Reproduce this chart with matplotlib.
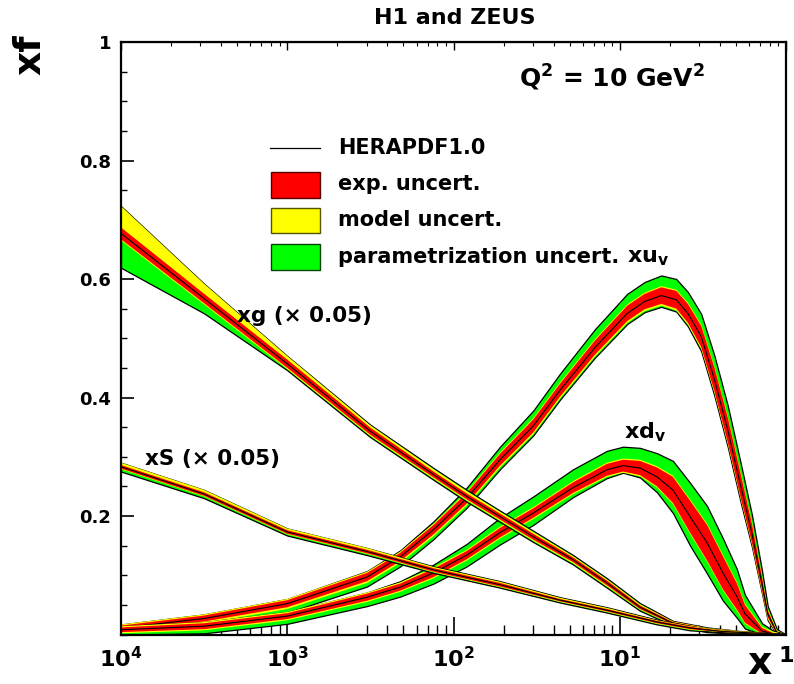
import numpy as np
import matplotlib
matplotlib.use('Agg')
import matplotlib.pyplot as plt
from matplotlib.patches import Rectangle
from matplotlib.lines import Line2D
from matplotlib.ticker import MultipleLocator, LogLocator, NullFormatter

plt.rcParams['font.family'] = ['DejaVu Sans']
plt.rcParams['mathtext.default'] = 'bf'

# ---------------- data (log10 x, central values, band half-widths) ----------------
# xu_v
logx_uv = [-4, -3.5, -3, -2.52, -2.32, -2.12, -1.92, -1.72, -1.52, -1.36, -1.15, -0.955,
           -0.85, -0.75, -0.66, -0.59, -0.51, -0.43, -0.35, -0.27, -0.205, -0.145, -0.11, -0.055, 0]
xuv = [0.011, 0.027, 0.052, 0.097, 0.131, 0.177, 0.230, 0.295, 0.352, 0.412, 0.484, 0.542,
       0.562, 0.572, 0.565, 0.542, 0.503, 0.430, 0.345, 0.248, 0.171, 0.087, 0.035, 0.003, 0.0]
uv_exp = [0.004, 0.005, 0.006, 0.007, 0.007, 0.008, 0.009, 0.010, 0.011, 0.011, 0.012, 0.013,
          0.013, 0.014, 0.015, 0.016, 0.018, 0.020, 0.021, 0.020, 0.016, 0.011, 0.006, 0.002, 0]
uv_mod_up = [0.002] * 24 + [0]
uv_mod_dn = [0.003] * 24 + [0]
uv_par_up = [0, 0, 0, 0.001, 0.002, 0.004, 0.007, 0.010, 0.013, 0.015, 0.017, 0.018,
             0.018, 0.018, 0.018, 0.018, 0.018, 0.018, 0.018, 0.016, 0.013, 0.009, 0.005, 0.002, 0]
uv_par_dn = [0.005, 0.006, 0.006, 0.006, 0.006, 0.005, 0.004, 0.003, 0.002, 0.002, 0.002, 0.002,
             0.002, 0.002, 0.002, 0.003, 0.004, 0.005, 0.005, 0.005, 0.004, 0.003, 0.002, 0.001, 0]

# xd_v
logx_dv = [-4, -3.5, -3, -2.52, -2.32, -2.12, -1.92, -1.72, -1.52, -1.28, -1.077, -0.98,
           -0.878, -0.776, -0.68, -0.577, -0.475, -0.379, -0.295, -0.247, -0.144, -0.08, 0]
xdv = [0.008, 0.014, 0.031, 0.063, 0.080, 0.104, 0.134, 0.172, 0.205, 0.248, 0.278, 0.285,
       0.281, 0.266, 0.244, 0.199, 0.155, 0.104, 0.064, 0.035, 0.006, 0.001, 0]
dv_exp = [0.004, 0.005, 0.005, 0.006, 0.006, 0.007, 0.007, 0.008, 0.008, 0.009, 0.010, 0.010,
          0.012, 0.016, 0.022, 0.027, 0.030, 0.028, 0.022, 0.015, 0.005, 0.002, 0]
dv_mod_up = [0.002] * 22 + [0]
dv_mod_dn = [0.002] * 22 + [0]
dv_par_up = [0, 0, 0, 0, 0.002, 0.005, 0.010, 0.015, 0.018, 0.020, 0.020, 0.020,
             0.020, 0.022, 0.025, 0.028, 0.030, 0.028, 0.022, 0.015, 0.006, 0.002, 0]
dv_par_dn = [0.004, 0.005, 0.006, 0.007, 0.008, 0.009, 0.010, 0.010, 0.010, 0.005, 0.002, 0.0,
             0.002, 0.008, 0.015, 0.020, 0.020, 0.017, 0.012, 0.008, 0.003, 0.001, 0]

# xg (x 0.05)
logx_g = [-4, -3.5, -3, -2.5, -2.12, -1.92, -1.72, -1.52, -1.28, -1.077, -0.878, -0.68, -0.475, -0.28, 0]
xg = [0.677, 0.567, 0.457, 0.343, 0.270, 0.233, 0.199, 0.165, 0.126, 0.087, 0.046, 0.019, 0.008, 0.004, 0.0]
g_exp = [0.010, 0.008, 0.007, 0.006, 0.005, 0.005, 0.005, 0.005, 0.004, 0.004, 0.003, 0.002, 0.002, 0.001, 0]
g_mod_up = [0.036, 0.017, 0.006, 0.004, 0.004, 0.004, 0.003, 0.003, 0.002, 0.002, 0.002, 0.001, 0.001, 0.001, 0]
g_mod_dn = [0.002, 0.002, 0.002, 0.002, 0.002, 0.002, 0.002, 0.002, 0.002, 0.002, 0.001, 0.001, 0.001, 0.001, 0]
g_par_up = [0.0, 0.0, 0.0, 0.001, 0.002, 0.002, 0.002, 0.002, 0.002, 0.002, 0.002, 0.001, 0.001, 0.0, 0]
g_par_dn = [0.046, 0.015, 0.002, 0.002, 0.002, 0.002, 0.002, 0.002, 0.002, 0.002, 0.002, 0.001, 0.001, 0.001, 0]

# xS (x 0.05)
logx_s = [-4, -3.5, -3, -2.52, -2.12, -1.72, -1.36, -1.077, -0.776, -0.577, -0.38, 0]
xs = [0.283, 0.237, 0.173, 0.140, 0.109, 0.084, 0.058, 0.041, 0.021, 0.011, 0.005, 0.0]
s_exp = [0.003, 0.003, 0.003, 0.003, 0.003, 0.003, 0.002, 0.002, 0.002, 0.002, 0.001, 0]
s_mod_up = [0.004, 0.004, 0.003, 0.003, 0.002, 0.002, 0.002, 0.002, 0.001, 0.001, 0.001, 0]
s_mod_dn = [0.001, 0.001, 0.001, 0.001, 0.001, 0.001, 0.001, 0.001, 0.001, 0.001, 0.0, 0]
s_par_up = [0.0, 0.0, 0.0, 0.0, 0.001, 0.001, 0.001, 0.001, 0.001, 0.0, 0.0, 0]
s_par_dn = [0.004, 0.003, 0.002, 0.002, 0.001, 0.001, 0.001, 0.001, 0.001, 0.001, 0.0, 0]

xtick_vals = [1e-4, 1e-3, 1e-2, 1e-1, 1]
xtick_labels = [r'$10^{4}$', r'$10^{3}$', r'$10^{2}$', r'$10^{1}$', '1']
ytick_vals = [0.2, 0.4, 0.6, 0.8, 1.0]
ytick_labels = ['0.2', '0.4', '0.6', '0.8', '1']

legend_labels = ['HERAPDF1.0', 'exp. uncert.', 'model uncert.', 'parametrization uncert.']

RED, YEL, GRN = '#ff0000', '#ffff00', '#00ff00'

# ---------------- figure ----------------
W, H = 794, 684
fig = plt.figure(figsize=(W / 100, H / 100), dpi=100)
L, R, T, B = 121, 786, 42, 634.5
ax = fig.add_axes([L / W, 1 - B / H, (R - L) / W, (B - T) / H])
ax.set_xscale('log')
ax.set_xlim(1e-4, 1)
ax.set_ylim(0, 1)


def draw(logx, c, e, mu, md, pu, pd):
    x = 10 ** np.asarray(logx, float)
    c = np.asarray(c, float)
    e = np.asarray(e, float)
    rlo, rhi = c - e, c + e
    ylo, yhi = rlo - np.asarray(md), rhi + np.asarray(mu)
    glo, ghi = ylo - np.asarray(pd), yhi + np.asarray(pu)
    clip = lambda a: np.clip(a, 0, None)
    ax.fill_between(x, clip(glo), clip(ghi), facecolor=GRN, edgecolor='black', linewidth=0.9, zorder=2)
    ax.fill_between(x, clip(ylo), clip(yhi), facecolor=YEL, edgecolor='none', zorder=2)
    ax.fill_between(x, clip(rlo), clip(rhi), facecolor=RED, edgecolor='none', zorder=2)
    ax.plot(x, c, color='black', lw=0.8, zorder=2)


draw(logx_uv, xuv, uv_exp, uv_mod_up, uv_mod_dn, uv_par_up, uv_par_dn)
draw(logx_dv, xdv, dv_exp, dv_mod_up, dv_mod_dn, dv_par_up, dv_par_dn)
draw(logx_g, xg, g_exp, g_mod_up, g_mod_dn, g_par_up, g_par_dn)
draw(logx_s, xs, s_exp, s_mod_up, s_mod_dn, s_par_up, s_par_dn)

# axes styling
for sp in ax.spines.values():
    sp.set_linewidth(1.6)
ax.set_xticks(xtick_vals)
ax.set_xticklabels(xtick_labels, fontsize=16, fontweight='bold')
ax.xaxis.set_minor_locator(LogLocator(base=10, subs=np.arange(2, 10)))
ax.xaxis.set_minor_formatter(NullFormatter())
ax.set_yticks(ytick_vals)
ax.set_yticklabels(ytick_labels, fontsize=13, fontweight='bold')
ax.yaxis.set_minor_locator(MultipleLocator(0.05))
ax.tick_params(axis='x', which='major', direction='in', length=13, width=1.2, pad=8)
ax.tick_params(axis='x', which='minor', direction='in', length=7, width=1.0)
ax.tick_params(axis='y', which='major', direction='in', length=9, width=1.2, pad=7)
ax.tick_params(axis='y', which='minor', direction='in', length=4.5, width=1.0)
for lab in ax.get_xticklabels():
    if lab.get_text() == '1':
        lab.set_horizontalalignment('center')

sec = ax.secondary_xaxis('top')
sec.set_xticks(xtick_vals)
sec.xaxis.set_minor_locator(LogLocator(base=10, subs=np.arange(2, 10)))
sec.xaxis.set_minor_formatter(NullFormatter())
sec.set_xticklabels([])
sec.tick_params(axis='x', which='major', direction='in', length=6, width=1.0)
sec.tick_params(axis='x', which='minor', direction='in', length=3, width=0.8)

# texts
def ft(px, py, s, **kw):
    fig.text(px / W, 1 - py / H, s, **kw)

ft(455, 18, 'H1 and ZEUS', ha='center', va='center', fontsize=16, fontweight='bold')
ft(30, 55, 'xf', ha='center', va='center', rotation=90, fontsize=27, fontweight='bold')
ft(760, 682, 'x', ha='center', va='bottom', fontsize=27, fontweight='bold')
ft(519, 78, r'$Q^{2}$ = 10 GeV$^{2}$', ha='left', va='center', fontsize=18, fontweight='bold')
ft(237, 316, 'xg (× 0.05)', ha='left', va='center', fontsize=15.5, fontweight='bold')
ft(145, 459, 'xS (× 0.05)', ha='left', va='center', fontsize=15.5, fontweight='bold')
ft(627, 258, r'$xu_{v}$', ha='left', va='center', fontsize=16)
ft(624, 432, r'$xd_{v}$', ha='left', va='center', fontsize=16)

# legend (drawn manually)
fig.add_artist(Line2D([270 / W, 320 / W], [1 - 148 / H] * 2, color='black', lw=0.9))
boxes = [(185, RED, '#550000'), (221, YEL, '#555500'), (257, GRN, '#004400')]
for (cy, fc, ec) in boxes:
    fig.add_artist(Rectangle((271 / W, 1 - (cy + 12.5) / H), 49 / W, 25 / H,
                             facecolor=fc, edgecolor=ec, lw=1.0))
for cy, lab in zip([148, 184, 220, 257], legend_labels):
    ft(338, cy, lab, ha='left', va='center', fontsize=15, fontweight='bold')

fig.savefig('out.png', dpi=100)
